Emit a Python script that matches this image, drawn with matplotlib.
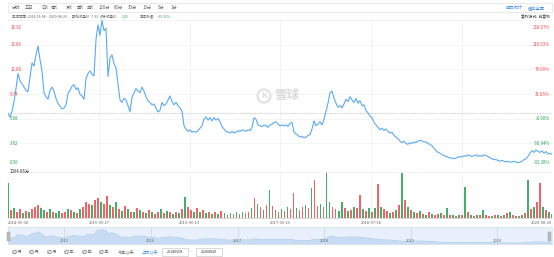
#!/usr/bin/env python3
"""Xueqiu-style price / volume chart, 2014-05-08 to 2020-08-20."""

import numpy as np
import pandas as pd
import matplotlib
matplotlib.use("Agg")
import matplotlib.pyplot as plt
from matplotlib.patches import Rectangle, Circle
from matplotlib.transforms import Affine2D

plt.rcParams['font.family'] = ['Noto Sans CJK SC', 'DejaVu Sans']

W, H = 554, 257

# --- data ------------------------------------------------------------------
start_date = pd.Timestamp('2014-05-08')
end_date = pd.Timestamp('2020-08-20')

# close price, sampled evenly over the period (前复权)
close = [
    7.3, 6.9, 7.6, 8.8, 10.4, 12.3, 11.4, 11.0, 10.6, 10.2, 10.0, 11.8, 13.6, 13.2,
    14.6, 15.7, 14.0, 12.6, 9.9, 9.4, 9.1, 10.2, 10.6, 10.1, 9.2, 8.6, 8.2, 7.9,
    8.0, 8.4, 9.8, 10.2, 10.7, 10.9, 10.3, 10.5, 9.7, 9.5, 9.1, 11.6, 12.3, 12.6,
    12.2, 12.0, 16.5, 18.3, 17.0, 18.9, 17.6, 17.9, 11.9, 14.2, 14.6, 13.5, 13.0,
    11.0, 9.0, 8.7, 9.2, 9.0, 8.3, 7.5, 9.3, 9.9, 10.4, 10.1, 9.9, 10.6, 10.1,
    9.4, 8.9, 8.7, 8.4, 8.5, 8.0, 7.5, 7.7, 8.7, 8.3, 8.5, 9.0, 9.5, 8.8, 8.4,
    8.7, 8.3, 8.0, 7.6, 5.8, 5.4, 5.1, 5.3, 5.0, 5.1, 5.0, 5.2, 5.5, 5.8, 6.6,
    6.9, 6.5, 6.8, 6.4, 6.8, 6.5, 6.7, 6.3, 5.7, 5.4, 5.1, 5.0, 4.9, 5.1, 4.9,
    5.0, 5.2, 5.1, 5.3, 5.2, 5.1, 5.3, 5.2, 5.6, 6.8, 6.6, 5.9, 5.8, 5.7, 5.9,
    5.8, 5.6, 5.9, 6.0, 6.2, 6.3, 6.0, 5.8, 5.9, 5.8, 5.9, 5.7, 6.1, 6.2, 5.0,
    4.8, 4.6, 4.4, 4.5, 4.3, 4.4, 4.6, 4.7, 5.4, 6.4, 5.8, 6.0, 6.3, 5.9, 6.6,
    7.6, 8.6, 9.9, 10.1, 9.2, 8.6, 8.1, 8.3, 8.0, 8.5, 9.1, 8.8, 9.4, 9.0, 8.7,
    9.2, 8.6, 8.9, 8.3, 8.4, 7.7, 7.4, 7.0, 6.8, 6.2, 5.9, 5.6, 5.3, 5.5, 5.2,
    5.4, 5.1, 4.9, 5.0, 4.6, 4.4, 4.2, 3.9, 3.7, 3.9, 3.6, 3.5, 3.7, 3.6, 3.8,
    3.7, 3.9, 4.0, 3.9, 3.8, 3.8, 3.6, 3.5, 3.3, 3.0, 2.7, 2.5, 2.4, 2.2, 2.1,
    2.0, 1.9, 1.8, 1.8, 1.7, 1.8, 1.9, 2.0, 1.9, 2.1, 2.0, 2.2, 2.1, 2.0, 2.1,
    2.2, 2.0, 2.1, 2.0, 2.2, 2.1, 2.0, 1.8, 1.7, 1.6, 1.6, 1.5, 1.4, 1.5, 1.4,
    1.3, 1.4, 1.3, 1.3, 1.4, 1.3, 1.2, 1.3, 1.4, 1.6, 1.7, 2.0, 2.4, 2.7, 2.5,
    2.8, 2.6, 2.5, 2.7, 2.4, 2.6, 2.3, 2.4, 2.25,
]

# volume (万), sampled evenly; r = up day, g = down day
volume = [
    810, 180, 240, 150, 210, 120, 170, 130, 200, 260, 300, 230, 180, 140, 200, 150,
    120, 160, 110, 150, 210, 180, 140, 120, 200, 260, 380, 330, 290, 420, 470, 360,
    320, 520, 300, 250, 380, 210, 160, 280, 200, 150, 130, 240, 190, 150, 120, 180,
    130, 100, 140, 200, 110, 160, 130, 90, 150, 120, 200, 480, 260, 180, 150, 230,
    130, 190, 110, 150, 90, 130, 100, 170, 120, 80, 110, 90, 140, 100, 130, 110,
    150, 220, 460, 330, 250, 190, 300, 640, 270, 180, 150, 200, 170, 250, 200, 570,
    230, 180, 260, 300, 240, 690, 870, 280, 330, 250, 1060, 380, 250, 200, 170, 370,
    220, 160, 190, 260, 230, 530, 210, 170, 220, 150, 240, 780, 260, 200, 170, 120,
    150, 180, 300, 1050, 420, 250, 180, 140, 110, 160, 90, 70, 130, 100, 60, 90,
    120, 80, 230, 70, 60, 50, 80, 60, 710, 140, 70, 50, 60, 80, 180, 70,
    50, 40, 60, 80, 50, 60, 110, 150, 60, 40, 50, 70, 120, 870, 200, 260,
    370, 800, 250, 180, 140, 100,
]
direction = (
    "grgrrgrgrrrggrgrggrrgrgrgrrrgrrgrrgrgrgrgrgrgrgrgrrgrgrgrgrgrrgrgrgrgrgrgrgrg"
    "rgrrgrgrgrgrgrgrgrrgrrgrgrrgrggrrggrgrgrrgrgrgrgrrgrgrgrgrgrgrgrgrrgrgrgrgrgr"
    "grgrgrrgrgrgrgrgrgr"
)

price_levels = [18.92, 15.86, 12.80, 9.74, 6.68, 3.62, 0.56]
pct_labels = ['158.07%', '116.53%', '74.99%', '32.85%', '-8.90%', '-50.64%', '-92.38%']
start_close = 7.33
vol_max = 1064.86

grid_dates = ['2015-05-27', '2016-06-13', '2017-06-29', '2018-07-18', '2019-08-06']
grid_labels = ['2015-05-27', '2016-06-13', '2017-06-29', '2018-07-18', '']
year_starts = ['2015', '2016', '2017', '2018', '2019', '2020']

periods = ['分时', '五日', '日K', '周K', '月K', '季K', '年K', '120分', '60分', '30分', '15分', '5分', '1分']
period_x = [12, 25, 41, 51, 66, 77, 87, 99, 114, 128, 143, 158, 171]
ranges = ['近1月', '近3月', '近6月', '近1年', '近3年', '近5年', '今年以来', '上市以来']
range_x = [12, 29, 47, 64, 82, 99, 118, 142]

RED = '#f0474f'
GREEN = '#22a350'
GRAY = '#666666'
BLUE = '#3d8be0'
LINE = '#5aaaf5'


def rect(x0, y0, x1, y1):
    """pixel box (y down) -> figure fraction rect"""
    return [x0 / W, 1 - y1 / H, (x1 - x0) / W, (y1 - y0) / H]


def ftext(x, y, s, **kw):
    kw.setdefault('fontsize', 3.0)
    kw.setdefault('color', GRAY)
    kw.setdefault('va', 'center')
    fig.text(x / W, 1 - y / H, s, **kw)


def days(d):
    return (pd.Timestamp(d) - start_date).days


span = days(end_date)
x_close = np.linspace(0, span, len(close))
x_vol = np.linspace(0, span, len(volume))
pix = Affine2D().scale(1, -1).translate(0, H)  # figure pixels, y down

fig = plt.figure(figsize=(W / 100, H / 100), dpi=100)

# --- toolbar ---------------------------------------------------------------
fig.patches.append(Rectangle((8, 12), 544, -9.5, transform=pix, fill=False,
                             edgecolor='#e6e6e6', linewidth=0.6))
for p, px in zip(periods, period_x):
    ftext(px, 7.5, p, fontsize=3.1)
ftext(506, 7.5, '区间统计', color=BLUE, fontsize=3.1)
ftext(528, 7.5, '退出全屏', color=BLUE, fontsize=3.1)

ftext(12, 16.5, '区间范围: 2014-05-08 ~ 2020-08-20', fontsize=2.5)
ftext(72, 16.5, '期始收盘价: 7.33', fontsize=2.5)
ftext(100, 16.5, '终末收盘价:', fontsize=2.5)
ftext(122, 16.5, '2.25', fontsize=2.5, color=GREEN)
ftext(140, 16.5, '区间涨幅:', fontsize=2.5)
ftext(158, 16.5, '-69.31%', fontsize=2.5, color=GREEN)
ftext(550, 16.5, '复权方式: 前复权', fontsize=2.8, color='#333333', ha='right')

# --- price panel -----------------------------------------------------------
ax = fig.add_axes(rect(8, 20, 552, 168))
ax.set_xlim(0, span)
ax.set_ylim(price_levels[-1], price_levels[0])
for lv in price_levels[1:-1]:
    ax.axhline(lv, color='#f1f1f1', lw=0.5, zorder=0)
for d in grid_dates:
    ax.axvline(days(d), color='#eeeeee', lw=0.5, zorder=0)
ax.axhline(start_close, color='#bdbdbd', lw=0.6, ls=(0, (1, 1)), zorder=1)
ax.plot(x_close, close, color=LINE, lw=0.8, zorder=3)
ax.set_xticks([])
ax.set_yticks([])
for s in ax.spines.values():
    s.set_visible(False)
ax.spines['top'].set_visible(True)
ax.spines['top'].set_color('#eeeeee')
ax.spines['top'].set_linewidth(0.5)

for i, (lv, pl) in enumerate(zip(price_levels, pct_labels)):
    col = RED if lv > start_close else GREEN
    va = 'top' if i == 0 else ('bottom' if i == len(price_levels) - 1 else 'center')
    off = 1.0 if i == 0 else (-0.6 if i == len(price_levels) - 1 else 0)
    ax.text(0.004, lv - off * 0.6, f'{lv:.2f}', transform=ax.get_yaxis_transform(),
            color=col, fontsize=3.1, va=va, ha='left')
    ax.text(0.996, lv - off * 0.6, pl, transform=ax.get_yaxis_transform(),
            color=col, fontsize=3.1, va=va, ha='right')

# watermark
fig.patches.append(Circle((264, 96), 6.5, transform=pix, fill=False,
                          edgecolor='#dedede', linewidth=1.4))
ftext(264, 96, 'K', fontsize=6, color='#dedede', ha='center', weight='bold')
ftext(274, 96, '雪球', fontsize=9, color='#dadada', weight='bold')

# --- volume panel ----------------------------------------------------------
axv = fig.add_axes(rect(8, 172, 552, 218))
axv.set_xlim(0, span)
axv.set_ylim(0, vol_max)
for d in grid_dates:
    axv.axvline(days(d), color='#eeeeee', lw=0.5, zorder=0)
cols = [RED if c == 'r' else GREEN for c in direction[:len(volume)]]
axv.bar(x_vol, volume, width=span / len(volume) * 0.6, color=cols, alpha=0.85,
        linewidth=0, zorder=2)
axv.set_xticks([])
axv.set_yticks([])
for s in axv.spines.values():
    s.set_visible(False)
axv.spines['bottom'].set_visible(True)
axv.spines['bottom'].set_color('#cccccc')
axv.spines['bottom'].set_linewidth(0.5)
axv.spines['top'].set_visible(True)
axv.spines['top'].set_color('#eeeeee')
axv.spines['top'].set_linewidth(0.5)
ftext(10, 171.5, f'{vol_max:.2f}万', fontsize=3.1, color='#333333')

ftext(8, 222.5, start_date.strftime('%Y-%m-%d'), fontsize=2.9)
for d, lab in zip(grid_dates, grid_labels):
    ftext(8 + days(d) / span * 544, 222.5, lab, fontsize=2.9, ha='center')
ftext(552, 222.5, end_date.strftime('%Y-%m-%d'), fontsize=2.9, ha='right')

# --- navigator -------------------------------------------------------------
axn = fig.add_axes(rect(8, 227, 552, 244))
axn.set_xlim(0, span)
axn.set_ylim(0, 22)
axn.set_facecolor('#e8f0fb')
axn.fill_between(x_close, close, color='#c7dbf3', lw=0)
axn.plot(x_close, close, color='#a9c7ec', lw=0.5)
for y in year_starts:
    xd = days(f'{y}-01-01')
    axn.axvline(xd, color='#c9d6e6', lw=0.5)
    axn.text(xd, 1.2, y, fontsize=2.9, color=GRAY, ha='center', va='bottom')
axn.set_xticks([])
axn.set_yticks([])
for s in axn.spines.values():
    s.set_color('#d6e0ec')
    s.set_linewidth(0.5)
for hx in (8.5, 549.5):
    fig.patches.append(Rectangle((hx - 1.5, 241), 3, -9, transform=pix,
                                 facecolor='#bbbbbb', edgecolor='#999999', lw=0.3))

# --- range buttons ---------------------------------------------------------
for r, rx in zip(ranges, range_x):
    ftext(rx, 252, r, fontsize=3.0, color=BLUE if r == '上市以来' else GRAY)
for x0, s in ((162, '20140508'), (196, '20200820')):
    fig.patches.append(Rectangle((x0, 256), 26, -8, transform=pix, fill=False,
                                 edgecolor='#cccccc', lw=0.5))
    ftext(x0 + 13, 252, s, fontsize=2.7, color='#333333', ha='center')
ftext(191, 252, '-', fontsize=2.8, color=GRAY, ha='center')

fig.savefig('out.png', dpi=100)
